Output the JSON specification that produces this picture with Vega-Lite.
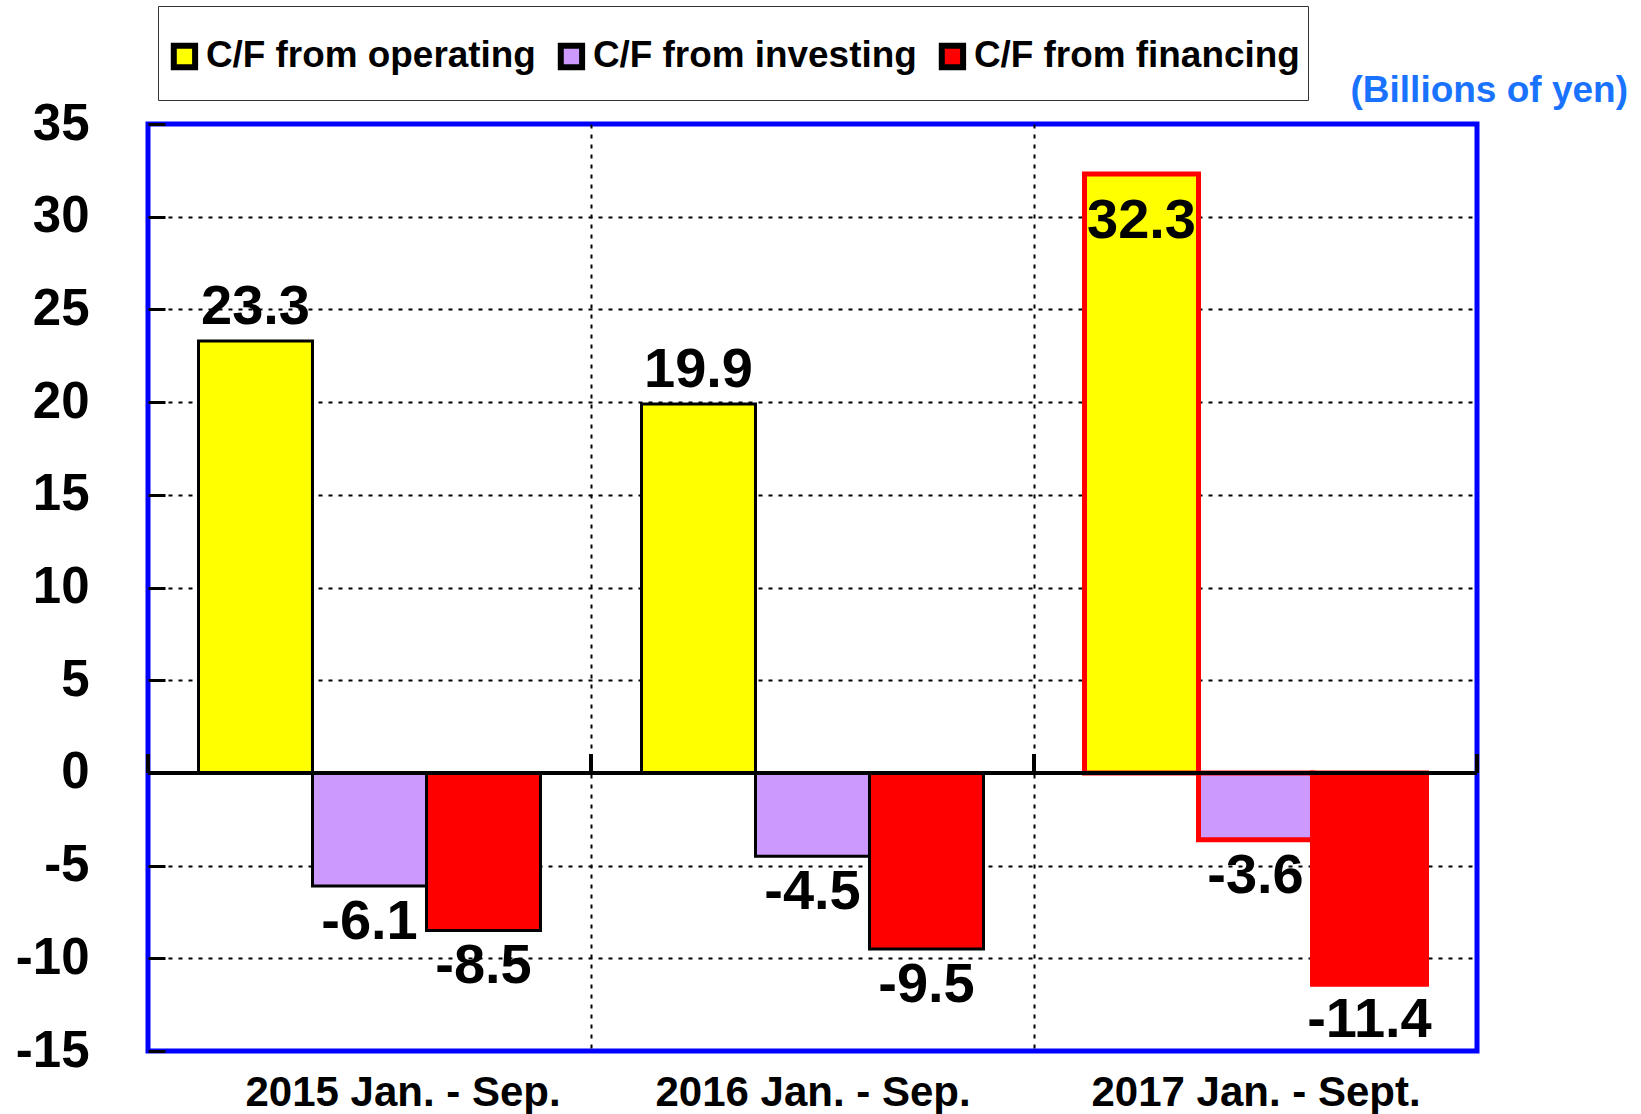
{
  "$schema": "https://vega.github.io/schema/vega-lite/v6.json",
  "width": 1329,
  "height": 927,
  "autosize": "none",
  "padding": {"left": 148, "top": 124, "right": 164, "bottom": 63},
  "background": "white",
  "title": {
    "text": "(Billions of yen)",
    "anchor": "end",
    "orient": "top",
    "frame": "group",
    "offset": 16,
    "dx": 151,
    "dy": 120,
    "color": "#1A73FF",
    "font": "Liberation Sans",
    "fontSize": 37,
    "fontWeight": "bold"
  },
  "data": {
    "values": [
      {"period": "2015 Jan. - Sep.", "series": "C/F from operating", "value": 23.3},
      {"period": "2015 Jan. - Sep.", "series": "C/F from investing", "value": -6.1},
      {"period": "2015 Jan. - Sep.", "series": "C/F from financing", "value": -8.5},
      {"period": "2016 Jan. - Sep.", "series": "C/F from operating", "value": 19.9},
      {"period": "2016 Jan. - Sep.", "series": "C/F from investing", "value": -4.5},
      {"period": "2016 Jan. - Sep.", "series": "C/F from financing", "value": -9.5},
      {"period": "2017 Jan. - Sept.", "series": "C/F from operating", "value": 32.3},
      {"period": "2017 Jan. - Sept.", "series": "C/F from investing", "value": -3.6},
      {"period": "2017 Jan. - Sept.", "series": "C/F from financing", "value": -11.4}
    ]
  },
  "layer": [
    {
      "mark": {"type": "bar", "strokeJoin": "miter"},
      "encoding": {
        "x": {
          "field": "period", "type": "nominal", "sort": null,
          "scale": {"paddingInner": 0, "paddingOuter": 0},
          "axis": {
            "title": null,
            "labelFont": "Liberation Sans",
            "labelFontSize": 42,
            "labelFontWeight": "bold",
            "labelColor": "black",
            "labelAngle": 0,
            "labelPadding": 21,
            "labelLimit": 0,
            "labelOffset": {"condition": {"test": "datum.value === '2015 Jan. - Sep.'", "value": 33}, "value": 0},
            "ticks": false,
            "domain": false,
            "grid": true,
            "tickBand": "extent",
            "gridColor": "black",
            "gridDash": [4, 6],
            "gridWidth": 2,
            "gridOpacity": {"condition": {"test": "datum.extra || datum.value === '2017 Jan. - Sept.'", "value": 0}, "value": 1}
          }
        },
        "xOffset": {
          "field": "series", "type": "nominal",
          "sort": ["C/F from operating", "C/F from investing", "C/F from financing"],
          "scale": {"paddingInner": 0, "paddingOuter": 0.443}
        },
        "y": {
          "field": "value", "type": "quantitative",
          "scale": {"domain": [-15, 35], "nice": false},
          "axis": {
            "title": null,
            "values": [-15, -10, -5, 0, 5, 10, 15, 20, 25, 30, 35],
            "labelExpr": "'' + datum.value",
            "labelFont": "Liberation Sans",
            "labelFontSize": 51,
            "labelFontWeight": "bold",
            "labelColor": "black",
            "labelPadding": 76,
            "tickSize": -17,
            "tickWidth": 3,
            "tickColor": "black",
            "domain": false,
            "grid": true,
            "gridColor": "black",
            "gridDash": [4, 6],
            "gridWidth": 2,
            "gridOpacity": {"condition": {"test": "datum.value === 35 || datum.value === -15", "value": 0}, "value": 1}
          }
        },
        "color": {
          "field": "series", "type": "nominal",
          "sort": ["C/F from operating", "C/F from investing", "C/F from financing"],
          "scale": {
            "domain": ["C/F from operating", "C/F from investing", "C/F from financing"],
            "range": ["#FFFF00", "#CC99FF", "#FF0000"]
          },
          "legend": {
            "orient": "none",
            "legendX": 10,
            "legendY": -118,
            "direction": "horizontal",
            "title": "\u00a0",
            "titleFontSize": 14,
            "titlePadding": 10,
            "labelFont": "Liberation Sans",
            "labelFontSize": 36.9,
            "labelFontWeight": "bold",
            "labelColor": "black",
            "labelLimit": 0,
            "labelOffset": 3,
            "columnPadding": 12,
            "symbolType": "M-1,-1H1V1H-1ZM0,2.2",
            "symbolSize": 455,
            "symbolStrokeColor": "black",
            "symbolStrokeWidth": 6,
            "symbolOpacity": 1,
            "padding": 8,
            "strokeColor": "#333333",
            "fillColor": "white",
            "encode": {
              "symbols": {
                "update": {
                  "strokeWidth": {"value": 6},
                  "stroke": {"value": "black"}
                }
              }
            }
          }
        },
        "stroke": {
          "condition": {"test": "datum.period === '2017 Jan. - Sept.'", "value": "#FF0000"},
          "value": "black"
        },
        "strokeWidth": {
          "condition": {"test": "datum.period === '2017 Jan. - Sept.'", "value": 5},
          "value": 3
        },
        "opacity": {"value": 1}
      }
    },
    {
      "mark": {"type": "rule", "color": "black", "strokeWidth": 4},
      "encoding": {"y": {"datum": 0}}
    },
    {
      "mark": {"type": "rule", "color": "black", "strokeWidth": 4},
      "encoding": {
        "x": {"field": "period", "type": "nominal", "sort": null, "bandPosition": 0},
        "y": {"datum": 0},
        "y2": {"datum": 1}
      }
    },
    {
      "mark": {"type": "rule", "color": "black", "strokeWidth": 4},
      "encoding": {
        "x": {"field": "period", "type": "nominal", "sort": null, "bandPosition": 1},
        "y": {"datum": 0},
        "y2": {"datum": 1}
      }
    },
    {
      "transform": [{"filter": "datum.value > 0 && datum.value < 30"}],
      "mark": {"type": "text", "font": "Liberation Sans", "fontSize": 56, "fontWeight": "bold", "color": "black", "baseline": "alphabetic", "dy": -17},
      "encoding": {
        "x": {"field": "period", "type": "nominal", "sort": null},
        "xOffset": {"field": "series", "type": "nominal", "sort": ["C/F from operating", "C/F from investing", "C/F from financing"]},
        "y": {"field": "value", "type": "quantitative"},
        "text": {"field": "value", "type": "nominal"}
      }
    },
    {
      "transform": [{"filter": "datum.value >= 30"}],
      "mark": {"type": "text", "font": "Liberation Sans", "fontSize": 56, "fontWeight": "bold", "color": "black", "baseline": "top", "dy": 20},
      "encoding": {
        "x": {"field": "period", "type": "nominal", "sort": null},
        "xOffset": {"field": "series", "type": "nominal", "sort": ["C/F from operating", "C/F from investing", "C/F from financing"]},
        "y": {"field": "value", "type": "quantitative"},
        "text": {"field": "value", "type": "nominal"}
      }
    },
    {
      "transform": [{"filter": "datum.value < 0"}],
      "mark": {"type": "text", "font": "Liberation Sans", "fontSize": 56, "fontWeight": "bold", "color": "black", "baseline": "top", "dy": 9},
      "encoding": {
        "x": {"field": "period", "type": "nominal", "sort": null},
        "xOffset": {"field": "series", "type": "nominal", "sort": ["C/F from operating", "C/F from investing", "C/F from financing"]},
        "y": {"field": "value", "type": "quantitative"},
        "text": {"field": "value", "type": "nominal"}
      }
    }
  ],
  "config": {
    "view": {"stroke": "#0000FF", "strokeWidth": 5},
    "font": "Liberation Sans",
    "legend": {"strokeWidth": 1}
  }
}
